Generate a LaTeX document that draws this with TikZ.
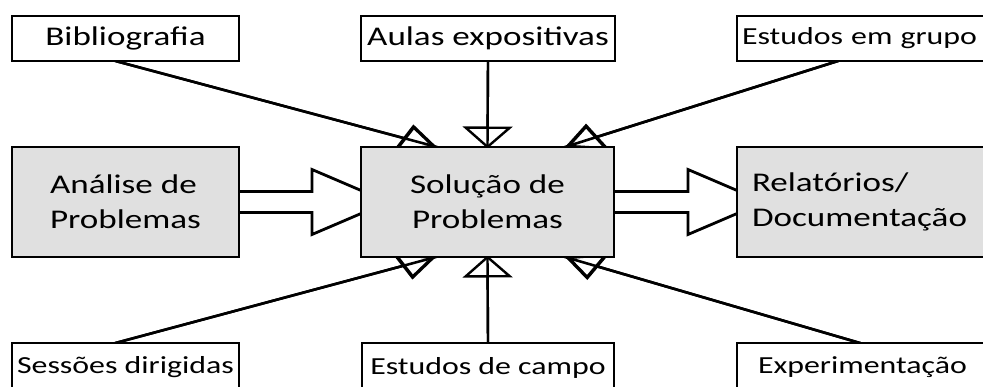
\documentclass[tikz,border=0pt]{standalone}
\usepackage{fontspec}
\setmainfont{Carlito}[FakeStretch=1.3]
\usetikzlibrary{arrows.meta,calc,backgrounds,positioning}
\definecolor{boxgray}{RGB}{224,224,224}

% fat white arrow between two stages
\newcommand{\stagearrow}[2]{
  \draw[flow] ($(#1.east)+(0,-10.5)$) -- ($(#2.west)+(-49,-10.5)$)
    -- ($(#2.west)+(-49,-32.5)$) -- ($(#2.west)+(27,0)$)
    -- ($(#2.west)+(-49,32.5)$) -- ($(#2.west)+(-49,10.5)$)
    -- ($(#1.east)+(0,10.5)$);
}
% slanted feed, x squeezed by 1/1.7 (the scope stretches it back)
\newcommand{\slantfeed}[4]{
  \draw[slantfeed] let \p1=(#1), \p2=(#3) in
    ({0.5882*(\x1+#2)},\y1) -- ({0.5882*(\x2+#4)},\y2);
}

\begin{document}
\begin{tikzpicture}[x=1pt,y=-1pt,font=\fontsize{27}{35}\selectfont]
  \tikzstyle{infobox}=[draw,line width=2.8pt,fill=white,minimum height=45pt,inner sep=0pt,outer sep=0pt]
  \tikzstyle{lowbox}=[infobox,minimum height=49pt,font=\fontsize{24.5}{30}\selectfont]
  \tikzstyle{stagebox}=[draw,line width=2.8pt,fill=boxgray,minimum height=110pt,inner sep=0pt,outer sep=0pt]
  \tikzstyle{feed}=[line width=2.4pt,-{Triangle[open,length=22pt,width=50pt]},postaction={draw,-}]
  \tikzstyle{slantfeed}=[line width=2.4pt,-{Triangle[open,length=22pt,width=29pt]},postaction={draw,-}]
  \tikzstyle{flow}=[line width=2.8pt,fill=white,line join=miter]
  \useasboundingbox (0,0) rectangle (983,387);

  % top row
  \node[infobox,minimum width=227pt] (bib) at (125.5,38.5) {Bibliografia};
  \node[infobox,minimum width=254pt] (aulas) at (488,38.5) {Aulas expositivas};
  \node[infobox,anchor=west,text width=290pt,inner xsep=5pt,font=\fontsize{24.5}{30}\selectfont] (grupo) at (737,38.5) {Estudos em grupo};

  % middle row
  \node[stagebox,minimum width=227pt,align=left] (ana) at (125.5,202) {Análise de\\Problemas};
  \node[stagebox,minimum width=253pt,align=center] (sol) at (487.5,202) {Solução de\\Problemas};
  \node[stagebox,anchor=west,text width=280pt,inner xsep=15pt,align=left] (rel) at (737,202) {Relatórios/\\Documentação};

  % bottom row
  \node[lowbox,minimum width=227pt] (sess) at (125.5,367.5) {Sessões dirigidas};
  \node[lowbox,minimum width=252pt] (campo) at (488,367.5) {Estudos de campo};
  \node[lowbox,anchor=west,text width=280pt,inner xsep=21pt] (exper) at (737,367.5) {Experimentação};

  \begin{pgfonlayer}{background}
    \stagearrow{ana}{sol}
    \stagearrow{sol}{rel}
    \draw[feed] (aulas.south) -- ($(sol.north)+(0,1.5)$);
    \draw[feed] (campo.north) -- ($(sol.south)+(0,-1.5)$);
    \begin{scope}[transform canvas={xscale=1.7}]
      \slantfeed{bib.south}{-10pt}{sol.north west}{76pt}
      \slantfeed{grupo.south west}{101pt}{sol.north east}{-49pt}
      \slantfeed{sess.north}{-10pt}{sol.south west}{75pt}
      \slantfeed{exper.north west}{123pt}{sol.south east}{-49pt}
    \end{scope}
  \end{pgfonlayer}
\end{tikzpicture}
\end{document}
